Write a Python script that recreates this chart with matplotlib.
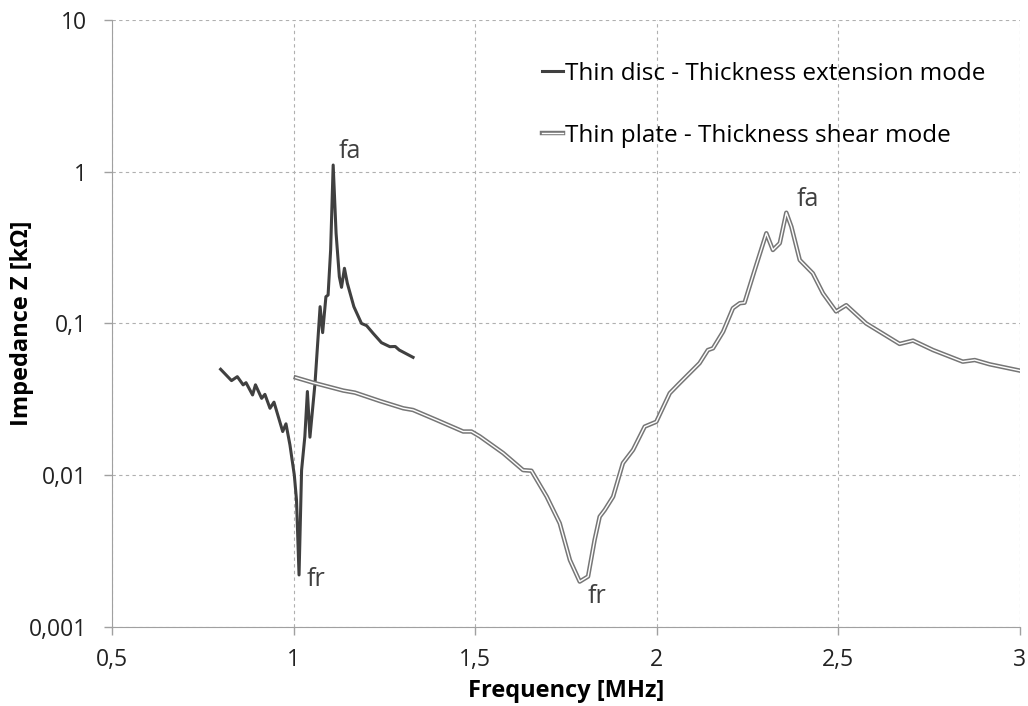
import numpy as np
import matplotlib.pyplot as plt
import matplotlib.patheffects as pe
from matplotlib.ticker import FixedLocator, FixedFormatter, NullLocator

plt.rcParams['font.family'] = ['Open Sans', 'DejaVu Sans']

# thin disc - thickness extension mode (MHz, kOhm)
disc_f = [0.799, 0.829, 0.845, 0.861, 0.869, 0.887, 0.895, 0.912, 0.921, 0.935,
          0.946, 0.970, 0.979, 0.990, 1.002, 1.008, 1.015, 1.022, 1.031, 1.038,
          1.045, 1.059, 1.073, 1.080, 1.089, 1.095, 1.102, 1.109, 1.117, 1.126,
          1.132, 1.140, 1.148, 1.166, 1.187, 1.201, 1.219, 1.242, 1.265, 1.280,
          1.291, 1.329]
disc_z = [0.0499, 0.042, 0.0446, 0.0394, 0.0407, 0.0338, 0.0394, 0.0321, 0.0341, 0.0276,
          0.0303, 0.0194, 0.0218, 0.0158, 0.0100, 0.00687, 0.0022, 0.0108, 0.0180, 0.0356,
          0.0178, 0.0404, 0.129, 0.087, 0.150, 0.154, 0.305, 1.107, 0.393, 0.203,
          0.173, 0.231, 0.184, 0.129, 0.100, 0.0968, 0.0861, 0.0747, 0.0703, 0.0705,
          0.0668, 0.0598]

# thin plate - thickness shear mode
plate_f = [1.006, 1.054, 1.137, 1.169, 1.238, 1.302, 1.329, 1.394, 1.467, 1.490,
           1.513, 1.577, 1.632, 1.655, 1.697, 1.733, 1.761, 1.788, 1.811, 1.829,
           1.843, 1.857, 1.880, 1.907, 1.935, 1.967, 1.999, 2.036, 2.063, 2.118,
           2.141, 2.155, 2.183, 2.210, 2.229, 2.242, 2.270, 2.302, 2.320, 2.339,
           2.357, 2.371, 2.394, 2.430, 2.458, 2.494, 2.522, 2.577, 2.669, 2.706,
           2.761, 2.843, 2.876, 2.917, 3.0]
plate_z = [0.044, 0.0407, 0.0361, 0.035, 0.0308, 0.0276, 0.0269, 0.0231, 0.0194, 0.0194,
           0.0180, 0.0140, 0.0108, 0.0107, 0.00723, 0.00482, 0.00276, 0.00199, 0.00215, 0.00374,
           0.00533, 0.0059, 0.00722, 0.0120, 0.0147, 0.0209, 0.0225, 0.0347, 0.0404, 0.0547,
           0.0668, 0.0686, 0.0883, 0.126, 0.136, 0.137, 0.225, 0.393, 0.305, 0.338,
           0.537, 0.434, 0.262, 0.214, 0.158, 0.120, 0.132, 0.100, 0.0733, 0.0771,
           0.0668, 0.056, 0.0574, 0.0538, 0.0489]

x_ticks = [0.5, 1, 1.5, 2, 2.5, 3]
x_labels = ['0,5', '1', '1,5', '2', '2,5', '3']
y_ticks = [0.001, 0.01, 0.1, 1, 10]
y_labels = ['0,001', '0,01', '0,1', '1', '10']

fig = plt.figure(figsize=(10.28, 7.06), dpi=100)
ax = fig.add_axes([0.109, 0.112, 0.883, 0.8597])

ax.plot(disc_f, disc_z, color='#404040', lw=2.2, label='Thin disc - Thickness extension mode', zorder=3)
ax.plot(plate_f, plate_z, color='white', lw=1.0, label='Thin plate - Thickness shear mode', zorder=3,
        path_effects=[pe.Stroke(linewidth=3.2, foreground='#767676'), pe.Normal()])

ax.set_yscale('log')
ax.set_xlim(0.5, 3)
ax.set_ylim(0.001, 10)

ax.xaxis.set_major_locator(FixedLocator(x_ticks))
ax.xaxis.set_major_formatter(FixedFormatter(x_labels))
ax.yaxis.set_major_locator(FixedLocator(y_ticks))
ax.yaxis.set_major_formatter(FixedFormatter(y_labels))
ax.yaxis.set_minor_locator(NullLocator())

ax.grid(True, ls=(0, (3, 3)), color='#b0b0b0', lw=0.8)
for s in ['top', 'right']:
    ax.spines[s].set_visible(False)
for s in ['left', 'bottom']:
    ax.spines[s].set_color('#a0a0a0')
ax.tick_params(axis='both', colors='#a0a0a0', labelcolor='#222222', labelsize=16.5, length=6, width=1)
ax.tick_params(axis='x', pad=9)
ax.tick_params(axis='y', pad=12)

ax.set_xlabel('Frequency [MHz]', fontsize=17, fontweight='bold')
ax.set_ylabel('Impedance Z [k\u03a9]', fontsize=17, fontweight='bold')
ax.xaxis.set_label_coords(0.5, -0.0857)
ax.yaxis.set_label_coords(-0.0859, 0.5)

# resonance / antiresonance labels
ax.text(1.125, 1.35, 'fa', fontsize=18, color='#404040', va='center')
ax.text(1.037, 0.00204, 'fr', fontsize=18, color='#404040', va='center')
ax.text(2.385, 0.652, 'fa', fontsize=18, color='#404040', va='center')
ax.text(1.810, 0.00158, 'fr', fontsize=18, color='#404040', va='center')

ax.legend(loc='upper left', frameon=False, fontsize=17.5, handlelength=0.85, handletextpad=0.1,
          labelspacing=1.55, borderpad=0, borderaxespad=0,
          bbox_to_anchor=(542 / 1028, 1 - 62 / 706), bbox_transform=fig.transFigure)

plt.savefig('out.png', dpi=100)
